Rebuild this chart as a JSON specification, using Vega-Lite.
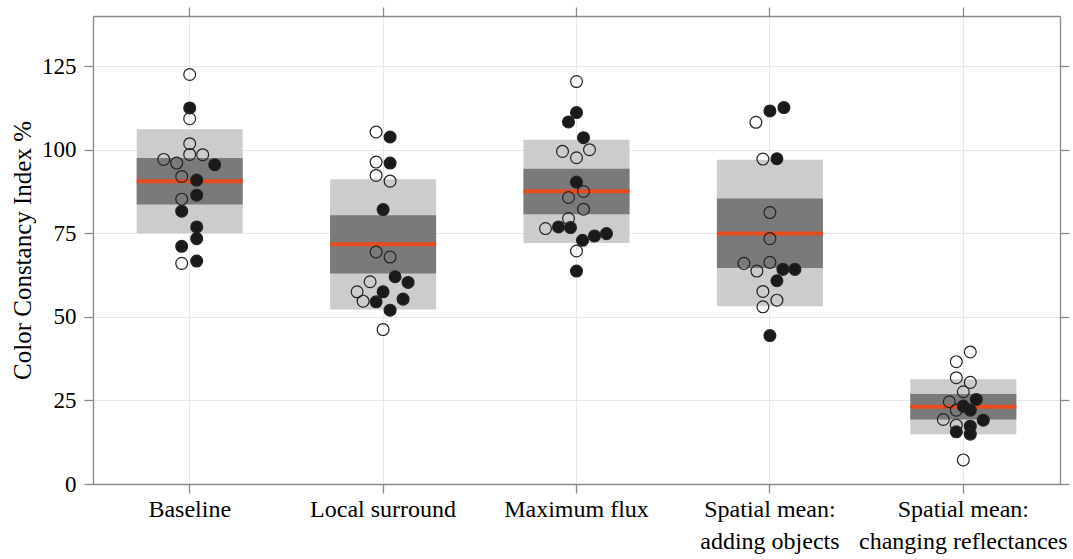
{
  "$schema": "https://vega.github.io/schema/vega-lite/v6.json",
  "autosize": {"type": "none"},
  "padding": {"left": 93, "top": 16, "right": 13, "bottom": 75},
  "width": 967,
  "height": 468,
  "datasets": {
    "boxes": [
      {"cond": "Baseline", "lo": 75.0, "q1": 83.6, "med": 90.6, "q3": 97.5, "hi": 106.1},
      {"cond": "Local surround", "lo": 52.2, "q1": 63.0, "med": 71.7, "q3": 80.4, "hi": 91.2},
      {"cond": "Maximum flux", "lo": 72.1, "q1": 80.7, "med": 87.6, "q3": 94.3, "hi": 103.0},
      {"cond": "Spatial mean: adding objects", "lo": 53.2, "q1": 64.6, "med": 74.9, "q3": 85.4, "hi": 97.0},
      {"cond": "Spatial mean: changing reflectances", "lo": 14.9, "q1": 19.3, "med": 23.1, "q3": 26.9, "hi": 31.3}
    ],
    "obs": [
      {"cond": "Baseline", "cci": 122.5, "jitter": 0, "kind": "open"},
      {"cond": "Baseline", "cci": 112.5, "jitter": 0, "kind": "filled"},
      {"cond": "Baseline", "cci": 109.3, "jitter": 0, "kind": "open"},
      {"cond": "Baseline", "cci": 101.8, "jitter": 0, "kind": "open"},
      {"cond": "Baseline", "cci": 98.6, "jitter": 0, "kind": "open"},
      {"cond": "Baseline", "cci": 98.5, "jitter": 13, "kind": "open"},
      {"cond": "Baseline", "cci": 97.1, "jitter": -26, "kind": "open"},
      {"cond": "Baseline", "cci": 96.0, "jitter": -13, "kind": "open"},
      {"cond": "Baseline", "cci": 95.5, "jitter": 25, "kind": "filled"},
      {"cond": "Baseline", "cci": 92.0, "jitter": -8, "kind": "open"},
      {"cond": "Baseline", "cci": 90.9, "jitter": 7, "kind": "filled"},
      {"cond": "Baseline", "cci": 86.4, "jitter": 7, "kind": "filled"},
      {"cond": "Baseline", "cci": 85.2, "jitter": -8, "kind": "open"},
      {"cond": "Baseline", "cci": 81.6, "jitter": -8, "kind": "filled"},
      {"cond": "Baseline", "cci": 76.9, "jitter": 7, "kind": "filled"},
      {"cond": "Baseline", "cci": 73.4, "jitter": 7, "kind": "filled"},
      {"cond": "Baseline", "cci": 71.1, "jitter": -8, "kind": "filled"},
      {"cond": "Baseline", "cci": 66.0, "jitter": -8, "kind": "open"},
      {"cond": "Baseline", "cci": 66.7, "jitter": 7, "kind": "filled"},

      {"cond": "Local surround", "cci": 105.3, "jitter": -7, "kind": "open"},
      {"cond": "Local surround", "cci": 103.8, "jitter": 7, "kind": "filled"},
      {"cond": "Local surround", "cci": 96.3, "jitter": -7, "kind": "open"},
      {"cond": "Local surround", "cci": 96.0, "jitter": 7, "kind": "filled"},
      {"cond": "Local surround", "cci": 92.3, "jitter": -7, "kind": "open"},
      {"cond": "Local surround", "cci": 90.6, "jitter": 7, "kind": "open"},
      {"cond": "Local surround", "cci": 82.1, "jitter": 0, "kind": "filled"},
      {"cond": "Local surround", "cci": 69.4, "jitter": -7, "kind": "open"},
      {"cond": "Local surround", "cci": 67.9, "jitter": 7, "kind": "open"},
      {"cond": "Local surround", "cci": 62.0, "jitter": 12, "kind": "filled"},
      {"cond": "Local surround", "cci": 60.3, "jitter": 25, "kind": "filled"},
      {"cond": "Local surround", "cci": 60.5, "jitter": -13, "kind": "open"},
      {"cond": "Local surround", "cci": 57.5, "jitter": -26, "kind": "open"},
      {"cond": "Local surround", "cci": 57.5, "jitter": 0, "kind": "filled"},
      {"cond": "Local surround", "cci": 54.7, "jitter": -20, "kind": "open"},
      {"cond": "Local surround", "cci": 54.5, "jitter": -7, "kind": "filled"},
      {"cond": "Local surround", "cci": 55.3, "jitter": 20, "kind": "filled"},
      {"cond": "Local surround", "cci": 52.0, "jitter": 7, "kind": "filled"},
      {"cond": "Local surround", "cci": 46.2, "jitter": 0, "kind": "open"},

      {"cond": "Maximum flux", "cci": 120.4, "jitter": 0, "kind": "open"},
      {"cond": "Maximum flux", "cci": 111.1, "jitter": 0, "kind": "filled"},
      {"cond": "Maximum flux", "cci": 108.3, "jitter": -8, "kind": "filled"},
      {"cond": "Maximum flux", "cci": 103.6, "jitter": 7, "kind": "filled"},
      {"cond": "Maximum flux", "cci": 99.5, "jitter": -14, "kind": "open"},
      {"cond": "Maximum flux", "cci": 100.0, "jitter": 13, "kind": "open"},
      {"cond": "Maximum flux", "cci": 97.6, "jitter": 0, "kind": "open"},
      {"cond": "Maximum flux", "cci": 90.3, "jitter": 0, "kind": "filled"},
      {"cond": "Maximum flux", "cci": 87.5, "jitter": 7, "kind": "open"},
      {"cond": "Maximum flux", "cci": 85.7, "jitter": -8, "kind": "open"},
      {"cond": "Maximum flux", "cci": 82.2, "jitter": 7, "kind": "open"},
      {"cond": "Maximum flux", "cci": 79.4, "jitter": -8, "kind": "open"},
      {"cond": "Maximum flux", "cci": 76.4, "jitter": -31, "kind": "open"},
      {"cond": "Maximum flux", "cci": 76.9, "jitter": -18, "kind": "filled"},
      {"cond": "Maximum flux", "cci": 76.7, "jitter": -6, "kind": "filled"},
      {"cond": "Maximum flux", "cci": 72.9, "jitter": 6, "kind": "filled"},
      {"cond": "Maximum flux", "cci": 74.2, "jitter": 18, "kind": "filled"},
      {"cond": "Maximum flux", "cci": 74.9, "jitter": 30, "kind": "filled"},
      {"cond": "Maximum flux", "cci": 69.7, "jitter": 0, "kind": "open"},
      {"cond": "Maximum flux", "cci": 63.7, "jitter": 0, "kind": "filled"},

      {"cond": "Spatial mean: adding objects", "cci": 112.6, "jitter": 14, "kind": "filled"},
      {"cond": "Spatial mean: adding objects", "cci": 111.6, "jitter": 0, "kind": "filled"},
      {"cond": "Spatial mean: adding objects", "cci": 108.2, "jitter": -14, "kind": "open"},
      {"cond": "Spatial mean: adding objects", "cci": 97.2, "jitter": -7, "kind": "open"},
      {"cond": "Spatial mean: adding objects", "cci": 97.3, "jitter": 7, "kind": "filled"},
      {"cond": "Spatial mean: adding objects", "cci": 81.2, "jitter": 0, "kind": "open"},
      {"cond": "Spatial mean: adding objects", "cci": 73.4, "jitter": 0, "kind": "open"},
      {"cond": "Spatial mean: adding objects", "cci": 66.0, "jitter": -26, "kind": "open"},
      {"cond": "Spatial mean: adding objects", "cci": 66.3, "jitter": 0, "kind": "open"},
      {"cond": "Spatial mean: adding objects", "cci": 63.7, "jitter": -13, "kind": "open"},
      {"cond": "Spatial mean: adding objects", "cci": 64.2, "jitter": 13, "kind": "filled"},
      {"cond": "Spatial mean: adding objects", "cci": 64.2, "jitter": 25, "kind": "filled"},
      {"cond": "Spatial mean: adding objects", "cci": 60.8, "jitter": 7, "kind": "filled"},
      {"cond": "Spatial mean: adding objects", "cci": 57.6, "jitter": -7, "kind": "open"},
      {"cond": "Spatial mean: adding objects", "cci": 55.0, "jitter": 7, "kind": "open"},
      {"cond": "Spatial mean: adding objects", "cci": 53.0, "jitter": -7, "kind": "open"},
      {"cond": "Spatial mean: adding objects", "cci": 44.4, "jitter": 0, "kind": "filled"},

      {"cond": "Spatial mean: changing reflectances", "cci": 39.5, "jitter": 7, "kind": "open"},
      {"cond": "Spatial mean: changing reflectances", "cci": 36.6, "jitter": -7, "kind": "open"},
      {"cond": "Spatial mean: changing reflectances", "cci": 31.8, "jitter": -7, "kind": "open"},
      {"cond": "Spatial mean: changing reflectances", "cci": 30.4, "jitter": 7, "kind": "open"},
      {"cond": "Spatial mean: changing reflectances", "cci": 27.6, "jitter": 0, "kind": "open"},
      {"cond": "Spatial mean: changing reflectances", "cci": 25.3, "jitter": 13, "kind": "filled"},
      {"cond": "Spatial mean: changing reflectances", "cci": 24.6, "jitter": -14, "kind": "open"},
      {"cond": "Spatial mean: changing reflectances", "cci": 23.3, "jitter": 0, "kind": "filled"},
      {"cond": "Spatial mean: changing reflectances", "cci": 22.1, "jitter": -7, "kind": "open"},
      {"cond": "Spatial mean: changing reflectances", "cci": 22.1, "jitter": 7, "kind": "filled"},
      {"cond": "Spatial mean: changing reflectances", "cci": 19.3, "jitter": -20, "kind": "open"},
      {"cond": "Spatial mean: changing reflectances", "cci": 19.1, "jitter": 20, "kind": "filled"},
      {"cond": "Spatial mean: changing reflectances", "cci": 17.6, "jitter": -7, "kind": "open"},
      {"cond": "Spatial mean: changing reflectances", "cci": 17.3, "jitter": 7, "kind": "filled"},
      {"cond": "Spatial mean: changing reflectances", "cci": 15.6, "jitter": -7, "kind": "filled"},
      {"cond": "Spatial mean: changing reflectances", "cci": 14.9, "jitter": 7, "kind": "filled"},
      {"cond": "Spatial mean: changing reflectances", "cci": 7.2, "jitter": 0, "kind": "open"}
    ]
  },
  "resolve": {"axis": {"x": "independent", "y": "independent"}},
  "layer": [
    {
      "data": {"name": "boxes"},
      "mark": {"type": "bar", "color": "#cccccc", "width": 106},
      "encoding": {
        "x": {
          "field": "cond", "type": "nominal", "sort": null,
          "scale": {"paddingInner": 0, "paddingOuter": 0},
          "axis": {
            "orient": "bottom", "title": null, "labelAngle": 0, "grid": true, "labelLimit": 0,
            "labelExpr": "indexof(datum.label, ':') > 0 ? [substring(datum.label, 0, indexof(datum.label, ':') + 1), substring(datum.label, indexof(datum.label, ':') + 2)] : datum.label"
          }
        },
        "y": {
          "field": "lo", "type": "quantitative",
          "scale": {"domain": [0, 140], "nice": false, "zero": true},
          "axis": {"orient": "left", "title": "Color Constancy Index %", "values": [0, 25, 50, 75, 100, 125], "grid": true}
        },
        "y2": {"field": "hi"}
      }
    },
    {
      "data": {"name": "boxes"},
      "mark": {"type": "bar", "color": "#7a7a7a", "width": 106},
      "encoding": {
        "x": {
          "field": "cond", "type": "nominal", "sort": null,
          "axis": {"orient": "top", "title": null, "labels": false, "grid": false}
        },
        "y": {
          "field": "q1", "type": "quantitative",
          "axis": {"orient": "right", "title": null, "labels": false, "grid": false, "values": [0, 25, 50, 75, 100, 125]}
        },
        "y2": {"field": "q3"}
      }
    },
    {
      "data": {"name": "boxes"},
      "mark": {"type": "tick", "color": "#e84b1e", "size": 106, "thickness": 4, "orient": "horizontal", "opacity": 1},
      "encoding": {
        "x": {"field": "cond", "type": "nominal", "sort": null, "axis": null},
        "y": {"field": "med", "type": "quantitative", "axis": null}
      }
    },
    {
      "data": {"name": "obs"},
      "mark": {"type": "point", "shape": "circle", "size": 140, "filled": false, "stroke": "#222222", "strokeWidth": 1.2, "opacity": 1},
      "encoding": {
        "x": {"field": "cond", "type": "nominal", "sort": null, "axis": null},
        "xOffset": {"field": "jitter", "type": "quantitative", "scale": {"domain": [-96.7, 96.7], "range": [0, 193.4]}},
        "y": {"field": "cci", "type": "quantitative", "axis": null},
        "fill": {
          "field": "kind", "type": "nominal",
          "scale": {"domain": ["open", "filled"], "range": ["transparent", "#1a1a1a"]},
          "legend": null
        }
      }
    }
  ],
  "config": {
    "font": "Liberation Serif",
    "view": {"stroke": null},
    "axis": {
      "labelFont": "Liberation Serif",
      "titleFont": "Liberation Serif",
      "labelColor": "#000000",
      "titleColor": "#000000",
      "labelFontSize": 23,
      "titleFontSize": 25,
      "titleFontWeight": "normal",
      "domainColor": "#8a8a8a",
      "domainWidth": 1.3,
      "tickColor": "#8a8a8a",
      "tickWidth": 1.3,
      "tickSize": 9,
      "labelPadding": 6,
      "gridColor": "#e8e8e8",
      "gridWidth": 1
    },
    "axisX": {"labelFontSize": 24, "labelLineHeight": 32, "labelPadding": 4},
    "axisY": {"titlePadding": 6, "labelPadding": 8}
  }
}
